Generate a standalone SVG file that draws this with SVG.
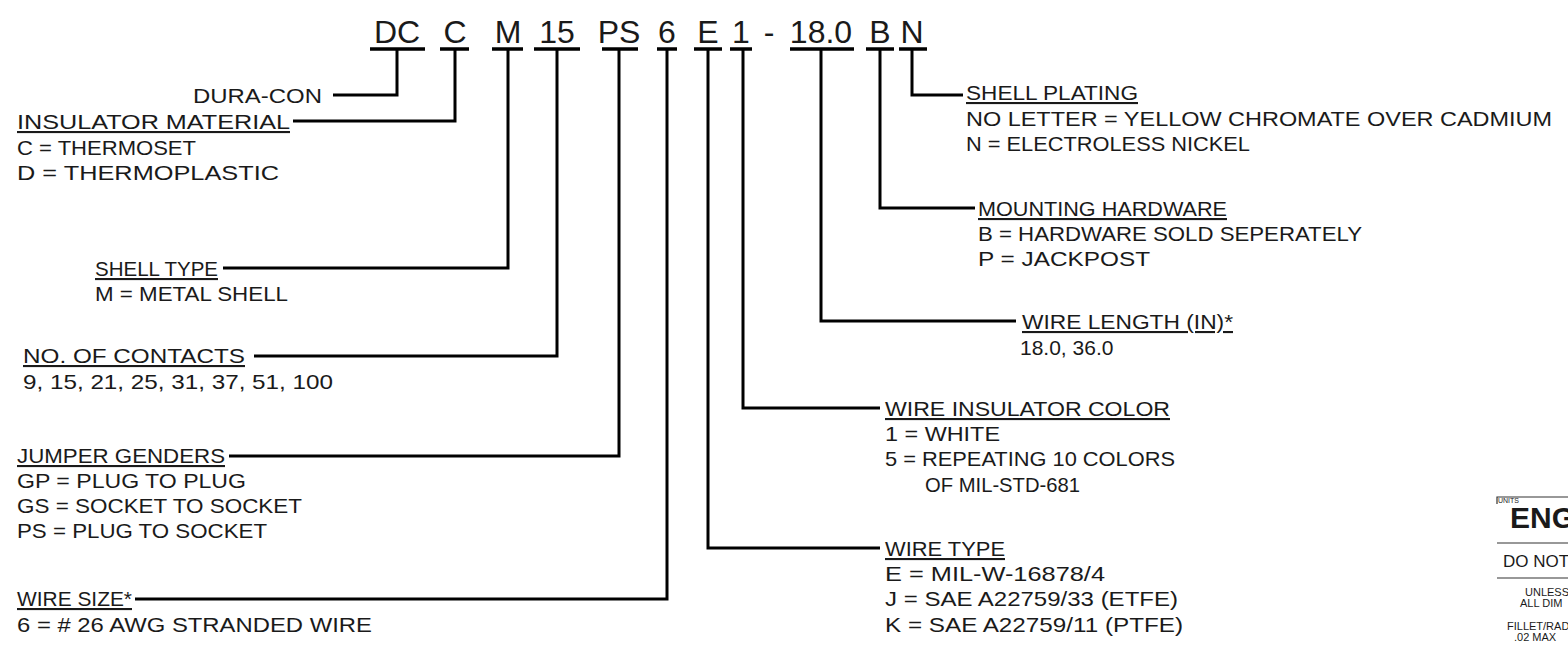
<svg xmlns="http://www.w3.org/2000/svg" width="1568" height="645" viewBox="0 0 1568 645">
<style>
.code{font-family:"Liberation Sans",Arial,sans-serif;font-size:32px;fill:#1a1a1a;text-anchor:middle}
.t{font-family:"Liberation Sans",Arial,sans-serif;font-size:21px;fill:#1a1a1a}
.h{text-decoration:underline}
.c{fill:none;stroke:#000;stroke-width:3;stroke-linejoin:miter}
.bar{stroke:#000;stroke-width:3.5}
.tb{stroke:#333;stroke-width:1.2;fill:none}
.tbt{font-family:"Liberation Sans",Arial,sans-serif;fill:#1a1a1a}
</style>
<rect width="1568" height="645" fill="#fff"/>
<g id="code">
<text class="code" x="397" y="43">DC</text>
<text class="code" x="455" y="43">C</text>
<text class="code" x="508" y="43">M</text>
<text class="code" x="557" y="43">15</text>
<text class="code" x="619" y="43">PS</text>
<text class="code" x="667" y="43">6</text>
<text class="code" x="708" y="43">E</text>
<text class="code" x="741" y="43">1</text>
<text class="code" x="769" y="43">-</text>
<text class="code" x="821" y="43">18.0</text>
<text class="code" x="880" y="43">B</text>
<text class="code" x="912" y="43">N</text>
</g>
<g id="connectors">
<line class="bar" x1="370" y1="49" x2="425" y2="49"/>
<line class="bar" x1="440" y1="49" x2="469" y2="49"/>
<line class="bar" x1="492" y1="49" x2="523" y2="49"/>
<line class="bar" x1="534" y1="49" x2="580" y2="49"/>
<line class="bar" x1="602" y1="49" x2="638" y2="49"/>
<line class="bar" x1="657" y1="49" x2="677" y2="49"/>
<line class="bar" x1="694" y1="49" x2="722" y2="49"/>
<line class="bar" x1="730" y1="49" x2="752" y2="49"/>
<line class="bar" x1="790" y1="49" x2="854" y2="49"/>
<line class="bar" x1="866" y1="49" x2="894" y2="49"/>
<line class="bar" x1="899" y1="49" x2="927" y2="49"/>
<path class="c" d="M397,49 V95 H333"/>
<path class="c" d="M455,49 V121 H293"/>
<path class="c" d="M508,49 V268 H223"/>
<path class="c" d="M557,49 V356 H254"/>
<path class="c" d="M619,49 V456 H229"/>
<path class="c" d="M667,49 V599 H135"/>
<path class="c" d="M708,49 V548 H880"/>
<path class="c" d="M743,49 V408 H880"/>
<path class="c" d="M821,49 V321 H1016"/>
<path class="c" d="M880,49 V208 H975"/>
<path class="c" d="M912,49 V95 H963"/>
</g>
<g id="dura-con">
<text class="t" x="322" y="103" text-anchor="end" textLength="129" lengthAdjust="spacingAndGlyphs">DURA-CON</text>
</g>
<g id="insulator-material">
<text class="t h" x="17" y="129" textLength="273" lengthAdjust="spacingAndGlyphs">INSULATOR MATERIAL</text>
<text class="t" x="17" y="155" textLength="179" lengthAdjust="spacingAndGlyphs">C = THERMOSET</text>
<text class="t" x="17" y="180" textLength="262" lengthAdjust="spacingAndGlyphs">D = THERMOPLASTIC</text>
</g>
<g id="shell-type">
<text class="t h" x="95" y="276" textLength="123" lengthAdjust="spacingAndGlyphs">SHELL TYPE</text>
<text class="t" x="95" y="301" textLength="193" lengthAdjust="spacingAndGlyphs">M = METAL SHELL</text>
</g>
<g id="contacts">
<text class="t h" x="23" y="363" textLength="222" lengthAdjust="spacingAndGlyphs">NO. OF CONTACTS</text>
<text class="t" x="23" y="389" textLength="310" lengthAdjust="spacingAndGlyphs">9, 15, 21, 25, 31, 37, 51, 100</text>
</g>
<g id="jumper-genders">
<text class="t h" x="17" y="463" textLength="208" lengthAdjust="spacingAndGlyphs">JUMPER GENDERS</text>
<text class="t" x="17" y="488" textLength="229" lengthAdjust="spacingAndGlyphs">GP = PLUG TO PLUG</text>
<text class="t" x="17" y="513" textLength="285" lengthAdjust="spacingAndGlyphs">GS = SOCKET TO SOCKET</text>
<text class="t" x="17" y="538" textLength="250" lengthAdjust="spacingAndGlyphs">PS = PLUG TO SOCKET</text>
</g>
<g id="wire-size">
<text class="t h" x="17" y="606" textLength="115" lengthAdjust="spacingAndGlyphs">WIRE SIZE*</text>
<text class="t" x="17" y="632" textLength="355" lengthAdjust="spacingAndGlyphs">6 = # 26 AWG STRANDED WIRE</text>
</g>
<g id="shell-plating">
<text class="t h" x="966" y="100" textLength="172" lengthAdjust="spacingAndGlyphs">SHELL PLATING</text>
<text class="t" x="966" y="126" textLength="586" lengthAdjust="spacingAndGlyphs">NO LETTER = YELLOW CHROMATE OVER CADMIUM</text>
<text class="t" x="966" y="151" textLength="284" lengthAdjust="spacingAndGlyphs">N = ELECTROLESS NICKEL</text>
</g>
<g id="mounting-hardware">
<text class="t h" x="978" y="216" textLength="249" lengthAdjust="spacingAndGlyphs">MOUNTING HARDWARE</text>
<text class="t" x="978" y="241" textLength="384" lengthAdjust="spacingAndGlyphs">B = HARDWARE SOLD SEPERATELY</text>
<text class="t" x="978" y="266" textLength="172" lengthAdjust="spacingAndGlyphs">P = JACKPOST</text>
</g>
<g id="wire-length">
<text class="t h" x="1022" y="329" textLength="211" lengthAdjust="spacingAndGlyphs">WIRE LENGTH (IN)*</text>
<text class="t" x="1020" y="355">18.0, 36.0</text>
</g>
<g id="wire-insulator-color">
<text class="t h" x="885" y="416" textLength="285" lengthAdjust="spacingAndGlyphs">WIRE INSULATOR COLOR</text>
<text class="t" x="885" y="441" textLength="115" lengthAdjust="spacingAndGlyphs">1 = WHITE</text>
<text class="t" x="885" y="466" textLength="290" lengthAdjust="spacingAndGlyphs">5 = REPEATING 10 COLORS</text>
<text class="t" x="925" y="492" textLength="155" lengthAdjust="spacingAndGlyphs">OF MIL-STD-681</text>
</g>
<g id="wire-type">
<text class="t h" x="885" y="556" textLength="120" lengthAdjust="spacingAndGlyphs">WIRE TYPE</text>
<text class="t" x="885" y="581" textLength="220" lengthAdjust="spacingAndGlyphs">E = MIL-W-16878/4</text>
<text class="t" x="885" y="606" textLength="293" lengthAdjust="spacingAndGlyphs">J = SAE A22759/33 (ETFE)</text>
<text class="t" x="885" y="632" textLength="298" lengthAdjust="spacingAndGlyphs">K = SAE A22759/11 (PTFE)</text>
</g>
<g id="title-block">
<path class="tb" d="M1497,504 V497 H1568"/>
<line class="tb" x1="1497" y1="543" x2="1568" y2="543"/>
<line class="tb" x1="1497" y1="578" x2="1568" y2="578"/>
<text class="tbt" x="1498" y="503" font-size="7">UNITS</text>
<text class="tbt" x="1510" y="528" font-size="30" font-weight="bold" fill="#000">ENG</text>
<text class="tbt" x="1503" y="567" font-size="17">DO NOT</text>
<text class="tbt" x="1525" y="596" font-size="11">UNLESS</text>
<text class="tbt" x="1520" y="607" font-size="11">ALL DIM</text>
<text class="tbt" x="1507" y="630" font-size="11">FILLET/RAD</text>
<text class="tbt" x="1514" y="641" font-size="11">.02 MAX</text>
</g>
</svg>
